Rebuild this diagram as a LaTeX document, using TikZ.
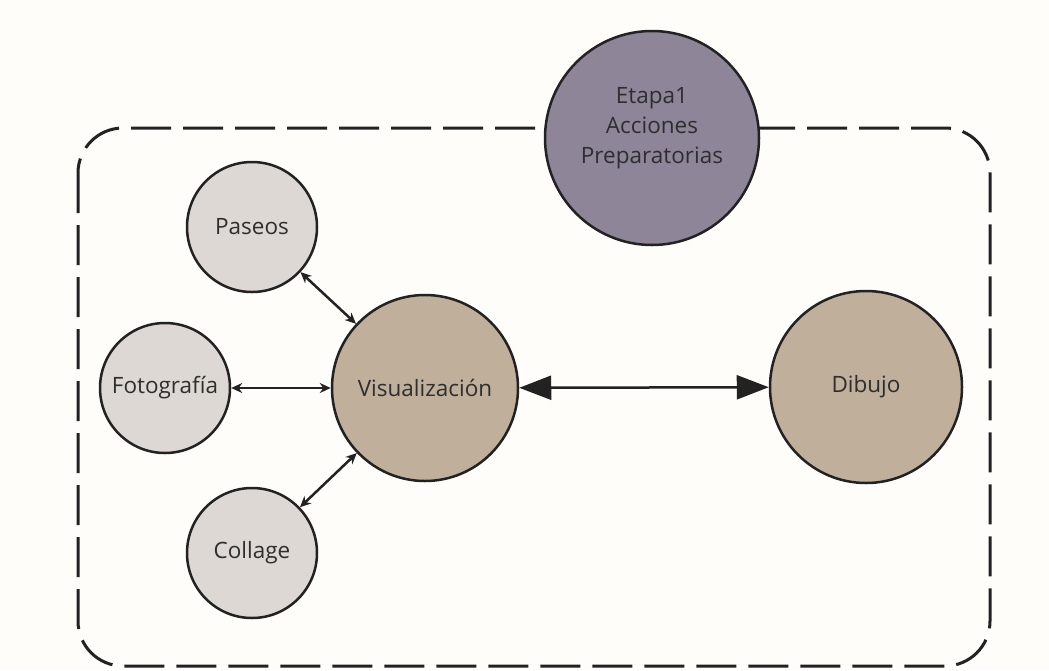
\documentclass[tikz,border=0pt]{standalone}
\usepackage{fontspec}
\setmainfont{Open Sans}
\usetikzlibrary{arrows.meta}
\definecolor{bg}{HTML}{FFFDFA}
\definecolor{small}{HTML}{DDD8D3}
\definecolor{tan}{HTML}{BFAF9B}
\definecolor{purp}{HTML}{8E8599}
\definecolor{ink}{HTML}{222222}
\definecolor{txt}{HTML}{2E2E2E}
\tikzset{
  lbl/.style={text=txt, font=\fontsize{22.5}{30}\selectfont, align=center},
  circ/.style={circle, draw=ink, line width=2.5pt, inner sep=0pt, lbl},
  smallc/.style={circ, fill=small, minimum size=130pt},
  bigc/.style={circ, fill=tan, minimum size=186pt},
  frame/.style={draw=ink, line width=3pt, dash pattern=on 40pt off 12pt, rounded corners=45pt},
  lnk/.style={draw=ink, line width=2.5pt, {Stealth[length=11pt,width=10pt]}-{Stealth[length=11pt,width=10pt]}},
  biglnk/.style={draw=ink, line width=2.5pt, {Triangle[length=32pt,width=24pt]}-{Triangle[length=32pt,width=24pt]}}
}
\begin{document}
\begin{tikzpicture}[x=1pt,y=-1pt]
\fill[bg] (0,0) rectangle (1049,670);
\useasboundingbox (0,0) rectangle (1049,670);
\draw[frame] (78,128) rectangle (990,666);
\node[circ, fill=purp, minimum size=214pt] (et) at (652,138) {};
\node[lbl] (etl) at (652,128) {Etapa1\\Acciones\\Preparatorias};
\node[smallc] (pa) at (252,227) {Paseos};
\node[smallc] (fo) at (165,388) {Fotografía};
\node[smallc] (co) at (252,553) {Collage};
\node[bigc] (vi) at (425,388) {Visualización};
\node[bigc, minimum size=192pt] (di) at (866,387) {Dibujo};
\draw[lnk] (pa) -- (vi);
\draw[lnk] (fo) -- (vi);
\draw[lnk] (co) -- (vi);
\draw[biglnk] (vi) -- (di);
\end{tikzpicture}
\end{document}
